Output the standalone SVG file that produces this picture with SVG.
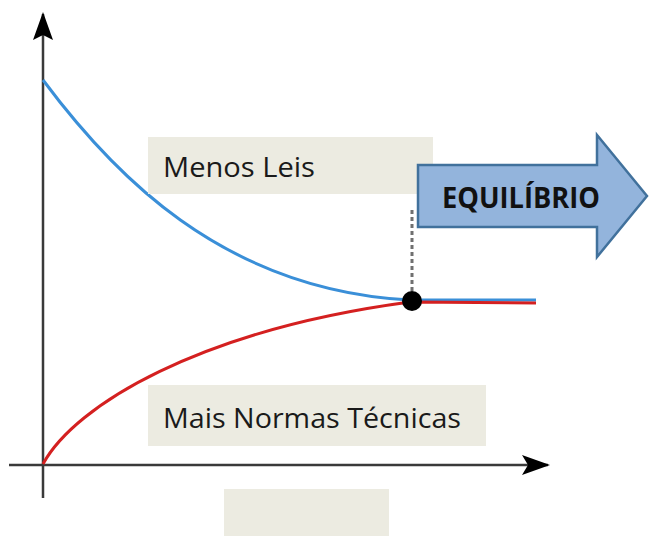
<svg xmlns="http://www.w3.org/2000/svg" width="649" height="536" viewBox="0 0 649 536">
<style>
.axis{stroke:#3a3a3a;stroke-width:2.5;fill:none}
.box{fill:#ecebe1}
.lbl{font-family:"Open Sans","Liberation Sans",sans-serif;font-size:27px;fill:#1a1a1a}
.curve{fill:none;stroke-width:3}
</style>
<rect width="649" height="536" fill="#fff"/>
<g id="connectors">
<path class="axis" d="M43,498 L43,14"/>
<path d="M43,12 L33,40 L43,35 L53,40 Z" fill="#000"/>
<path class="axis" d="M9,465 L548,465"/>
<path d="M550,465 L522,455 L528,465 L522,475 Z" fill="#000"/>
<path class="curve" stroke="#3a8fd8" d="M43,80 C110,170 220,290 410,300 L536,300"/>
<path class="curve" stroke="#d42020" d="M43,464 C75,405 200,330 410,302 L536,303"/>
<path d="M412,210 L412,292" stroke="#707070" stroke-width="3" stroke-dasharray="4,3" fill="none"/>
</g>
<g id="menos-leis">
<rect class="box" x="148" y="137" width="285" height="57"/>
<text class="lbl" x="163" y="177" textLength="152" lengthAdjust="spacingAndGlyphs">Menos Leis</text>
</g>
<g id="mais-normas">
<rect class="box" x="148" y="385" width="338" height="61"/>
<text class="lbl" x="163" y="428" textLength="298" lengthAdjust="spacingAndGlyphs">Mais Normas Técnicas</text>
</g>
<g id="bottom-box">
<rect class="box" x="224" y="489" width="165" height="47"/>
</g>
<g id="equilibrio">
<path d="M418,165 L597,165 L597,135 L647,196 L597,257 L597,227 L418,227 Z" fill="#93b4dc" stroke="#41719c" stroke-width="2.5" stroke-linejoin="miter"/>
<text x="442" y="208" font-family="'Open Sans','Liberation Sans',sans-serif" font-weight="bold" font-size="28" fill="#111" textLength="158" lengthAdjust="spacingAndGlyphs">EQUILÍBRIO</text>
</g>
<g id="equilibrium-point">
<circle cx="412" cy="301" r="10" fill="#000"/>
</g>
</svg>
